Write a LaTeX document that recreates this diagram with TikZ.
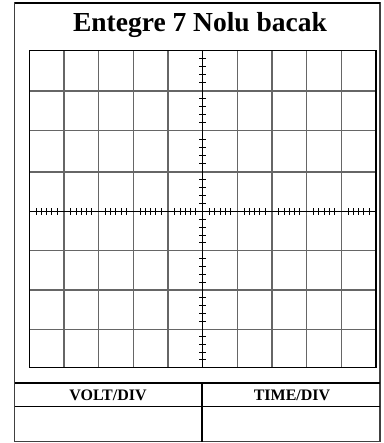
\documentclass[tikz,border=0pt]{standalone}
\usepackage{fontspec}
\setmainfont{Liberation Serif}

\begin{document}
\begin{tikzpicture}[x=1pt,y=-1pt]
				\tikzstyle{sheet}=[draw=black!75,line width=1.1pt]
				\tikzstyle{rule}=[draw=black,line width=1.5pt]
				\tikzstyle{gridline}=[draw=black!60,line width=1.2pt]
				\tikzstyle{axis}=[draw=black,line width=1.5pt]
				\tikzstyle{tick}=[draw=black,line width=0.9pt]
				\tikzstyle{caption}=[font=\bfseries\fontsize{16}{17}\selectfont]
				\useasboundingbox (0,0) rectangle (383,443);
				% outer sheet and title
				\draw[sheet] (14.5,3) rectangle (380,441.5);
				\draw[rule] (14.5,3) -- (380,3);
				\node[font=\bfseries\fontsize{27.5}{29}\selectfont] (title) at (200,25) {Entegre 7 Nolu bacak};
				% screen grid
				\foreach \i in {1,...,9}
					\draw[gridline] (29.3+34.67*\i,50.7) -- (29.3+34.67*\i,367.5);
				\foreach \y in {91,130.7,172,250.7,290,329.3}
					\draw[gridline] (29.3,\y) -- (376,\y);
				% axes with small divisions
				\draw[axis] (202.6,50.7) -- (202.6,367.5);
				\draw[axis] (29.3,211.7) -- (376,211.7);
				\foreach \i in {0,...,9}
					\foreach \k in {-2,...,2}
						\draw[tick] (46.6+34.67*\i+5.3*\k,208) -- (46.6+34.67*\i+5.3*\k,215.4);
				\foreach \y/\d in {50.7/40.3,91/39.7,130.7/41.3,172/39.7,211.7/39,250.7/39.3,290/39.3,329.3/38.2}
					\foreach \k in {1,...,4}
						\draw[tick] (199,\y+\d*\k/5) -- (206.2,\y+\d*\k/5);
				\draw[rule] (29.3,50.7) rectangle (376,367.5);
				% settings table
				\draw[rule] (14.5,383) -- (380,383);
				\draw[rule] (14.5,406.5) -- (380,406.5);
				\draw[rule] (202,383) -- (202,441.5);
				\node[caption] (volt) at (108,395) {VOLT/DIV};
				\node[caption] (time) at (292,395) {TIME/DIV};
\end{tikzpicture}
\end{document}
